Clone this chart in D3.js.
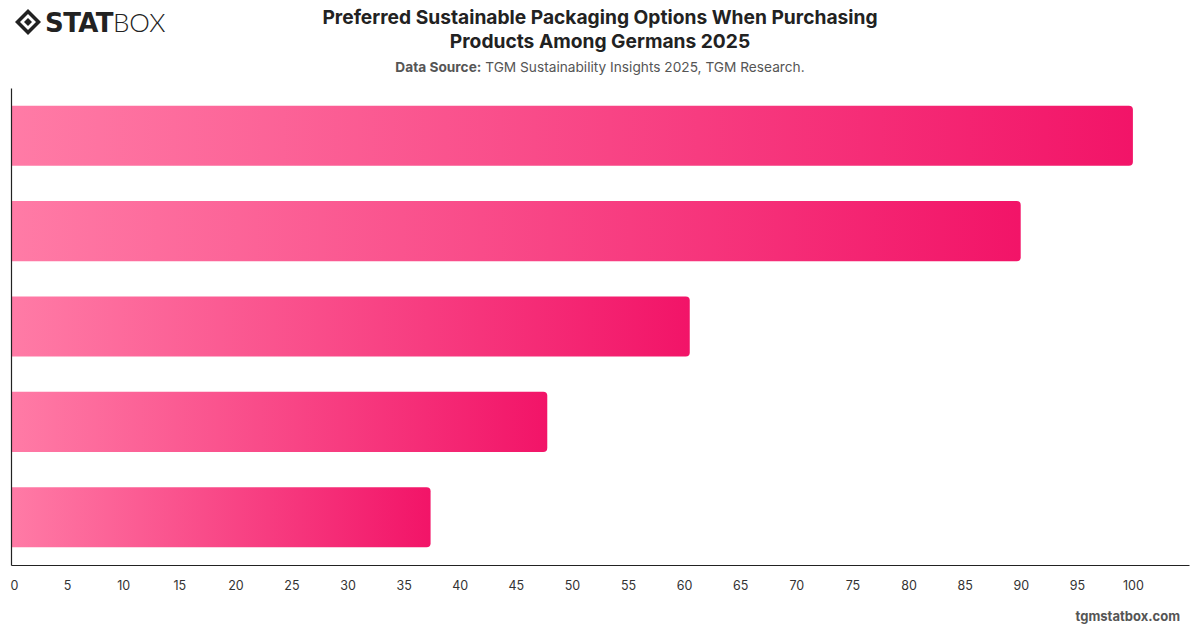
<!DOCTYPE html>
<html>
<head>
<meta charset="utf-8">
<script src="https://cdn.jsdelivr.net/npm/d3@7"></script>
<style>
  html, body { margin: 0; padding: 0; background: #fff; }
  svg { display: block; font-family: Inter, "Helvetica Neue", Arial, sans-serif; }
</style>
</head>
<body>
<svg id="chart" width="1200" height="628"></svg>
<script>
// Data (category names are not shown in the chart)
const categories = ["Option A", "Option B", "Option C", "Option D", "Option E"];
const values = [100, 90, 60.5, 47.8, 37.4];
const tickValues = [0, 5, 10, 15, 20, 25, 30, 35, 40, 45, 50, 55, 60, 65, 70, 75, 80, 85, 90, 95, 100];
const titleLines = ["Preferred Sustainable Packaging Options When Purchasing", "Products Among Germans 2025"];
const sourceLabel = "Data Source:";
const sourceText = " TGM Sustainability Insights 2025, TGM Research.";

const W = 1200, H = 628;
const margin = { left: 11, right: 11, top: 88, bottom: 63 };
const svg = d3.select("#chart");

const defs = svg.append("defs");
const grad = defs.append("linearGradient")
  .attr("id", "barGrad").attr("x1", "0%").attr("x2", "100%").attr("y1", "0%").attr("y2", "0%");
grad.append("stop").attr("offset", "0%").attr("stop-color", "#ff7ba6");
grad.append("stop").attr("offset", "100%").attr("stop-color", "#f21468");

const x = d3.scaleLinear().domain([0, 105]).range([margin.left, W - margin.right]);
const y = d3.scaleBand().domain(categories).range([margin.top, H - margin.bottom])
  .paddingInner(0.37).paddingOuter(0.185);

// Bars with rounded right corners
const r = 4;
function barPath(x0, x1, y0, h) {
  const rr = Math.min(r, (x1 - x0) / 2);
  return `M${x0},${y0}H${x1 - rr}Q${x1},${y0} ${x1},${y0 + rr}V${y0 + h - rr}Q${x1},${y0 + h} ${x1 - rr},${y0 + h}H${x0}Z`;
}
svg.append("g").selectAll("path").data(categories).join("path")
  .attr("d", (d, i) => barPath(x(0), x(values[i]), y(d), y.bandwidth()))
  .attr("fill", "url(#barGrad)");

// Axes
const xAxis = d3.axisBottom(x).tickValues(tickValues).tickSize(0).tickPadding(16);
const gx = svg.append("g").attr("transform", `translate(0,${H - margin.bottom})`).call(xAxis);
gx.select(".domain").attr("stroke", "#222").attr("stroke-width", 1.2);
gx.selectAll("text").attr("font-size", 12.5).attr("fill", "#333")
  .attr("font-family", "Inter, 'Helvetica Neue', Arial, sans-serif");
gx.selectAll(".tick").filter(d => d === 0).select("text").attr("dx", 3);

const yAxis = d3.axisLeft(y).tickSize(0).tickFormat("");
const gy = svg.append("g").attr("transform", `translate(${margin.left},0)`).call(yAxis);
gy.select(".domain").attr("stroke", "#222").attr("stroke-width", 1.2);

// Title
const title = svg.append("text").attr("text-anchor", "middle").attr("font-size", 19.2)
  .attr("font-weight", 700).attr("fill", "#222");
titleLines.forEach((t, i) => title.append("tspan").attr("x", 600).attr("y", 24 + i * 23.5).text(t));

const sub = svg.append("text").attr("x", 600).attr("y", 72).attr("text-anchor", "middle")
  .attr("font-size", 13.7).attr("fill", "#555");
sub.append("tspan").attr("font-weight", 700).text(sourceLabel);
sub.append("tspan").text(sourceText);

// Logo
const logo = svg.append("g").attr("transform", "translate(15,9)");
logo.append("path").attr("d", "M13,0 L26,13 L13,26 L0,13 Z").attr("fill", "#222");
logo.append("path").attr("d", "M13,5 L21,13 L13,21 L5,13 Z").attr("fill", "#fff");
logo.append("path").attr("d", "M13,9 L17,13 L13,17 L9,13 Z").attr("fill", "#222");
const lt = logo.append("text").attr("x", 30).attr("y", 23).attr("font-size", 26)
  .attr("font-family", "'DejaVu Sans', Arial, sans-serif").attr("fill", "#222");
lt.append("tspan").attr("font-weight", 900).attr("letter-spacing", -0.6).text("STAT");
lt.append("tspan").attr("font-weight", 300).attr("font-family", "Lato, Arial, sans-serif").text("BOX");

// Watermark
svg.append("text").attr("x", 1180).attr("y", 621).attr("text-anchor", "end")
  .attr("font-size", 13).attr("font-weight", 700).attr("fill", "#555").text("tgmstatbox.com");
</script>
</body>
</html>
